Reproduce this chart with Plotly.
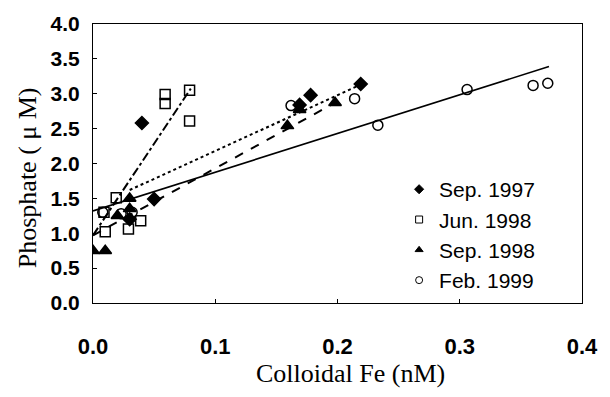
import plotly.graph_objects as go

# ---- data ----
sep97_x = [0.030, 0.040, 0.050, 0.169, 0.178, 0.219]
sep97_y = [1.20, 2.58, 1.49, 2.84, 2.98, 3.14]

jun98_x = [0.009, 0.010, 0.019, 0.029, 0.039, 0.059, 0.059, 0.079, 0.079]
jun98_y = [1.30, 1.02, 1.51, 1.06, 1.18, 2.99, 2.86, 3.05, 2.61]

sep98_x = [0.000, 0.010, 0.020, 0.030, 0.030, 0.159, 0.169, 0.198]
sep98_y = [0.75, 0.75, 1.25, 1.35, 1.50, 2.54, 2.77, 2.87]

feb99_x = [0.008, 0.023, 0.032, 0.162, 0.214, 0.233, 0.306, 0.360, 0.372]
feb99_y = [1.30, 1.28, 1.30, 2.83, 2.93, 2.55, 3.06, 3.12, 3.15]

# regression lines: (x start, x end, intercept, slope)
fit_sep97 = (0.030, 0.220, 1.38, 8.0)
fit_jun98 = (0.000, 0.080, 0.97, 26.3)
fit_sep98 = (0.000, 0.200, 0.97, 9.6)
fit_feb99 = (0.000, 0.373, 1.32, 5.55)

names = ["Sep. 1997", "Jun. 1998", "Sep. 1998", "Feb. 1999"]
x_ticks = [0.0, 0.1, 0.2, 0.3, 0.4]
y_ticks = [0.0, 0.5, 1.0, 1.5, 2.0, 2.5, 3.0, 3.5, 4.0]
x_title = "Colloidal Fe (nM)"
y_title = "Phosphate ( μ M)"

series = [
    (sep97_x, sep97_y, fit_sep97, "diamond", 10, "dot", 7),
    (jun98_x, jun98_y, fit_jun98, "square-open", 10, "dashdot", 7),
    (sep98_x, sep98_y, fit_sep98, "triangle-up", 11, "dash", 7),
    (feb99_x, feb99_y, fit_feb99, "circle-open", 10, "solid", 7),
]

fig = go.Figure()
for name, (xs, ys, fit, sym, size, dash, lsize) in zip(names, series):
    x0, x1, b, m = fit
    fig.add_trace(go.Scatter(
        x=[x0, x1], y=[b + m * x0, b + m * x1], mode="lines",
        line=dict(color="black", width=1.6 if dash == "solid" else 2, dash=dash),
        showlegend=False, hoverinfo="skip"))
    fig.add_trace(go.Scatter(
        x=xs, y=ys, mode="markers", showlegend=False, name=name,
        marker=dict(symbol=sym, size=size, color="black",
                    line=dict(color="black", width=1.5))))
    # legend entry (smaller marker like the reference)
    fig.add_trace(go.Scatter(
        x=[None], y=[None], mode="markers", name=name,
        marker=dict(symbol=sym, size=lsize, color="black",
                    line=dict(color="black", width=1))))

tick_font = dict(family="Liberation Sans, Arial, sans-serif", size=21, color="black", weight="bold")
title_font = dict(family="Liberation Serif, Times New Roman, serif", size=26, color="black")

fig.update_layout(
    width=610, height=397,
    margin=dict(l=93, r=19, t=15, b=94),
    paper_bgcolor="white", plot_bgcolor="white",
    showlegend=True,
    legend=dict(x=0.626, y=0.48, xanchor="left", yanchor="top",
                bgcolor="rgba(0,0,0,0)", borderwidth=0,
                font=dict(family="Liberation Sans, Arial, sans-serif", size=21, color="black"),
                itemwidth=30, tracegroupgap=0),
    xaxis=dict(range=[0, 0.4], tickvals=x_ticks, ticktext=[f"{v:.1f}" for v in x_ticks],
               ticks="inside", ticklen=4, tickcolor="black",
               showline=True, linecolor="black", linewidth=1, mirror=True,
               showgrid=False, zeroline=False,
               tickfont=dict(tick_font, size=22),
               ticklabelstandoff=24),
    yaxis=dict(range=[0, 4.0], tickvals=y_ticks, ticktext=[f"{v:.1f}" for v in y_ticks],
               ticks="inside", ticklen=4, tickcolor="black",
               showline=True, linecolor="black", linewidth=1, mirror=True,
               showgrid=False, zeroline=False, tickfont=tick_font,
               ticklabelstandoff=8),
    annotations=[
        dict(text=x_title, xref="paper", yref="paper", x=0.526, y=-0.253,
             xanchor="center", yanchor="middle", showarrow=False, font=title_font),
        dict(text=y_title, xref="paper", yref="paper", x=-0.1345, y=0.448,
             xanchor="center", yanchor="middle", textangle=-90, showarrow=False,
             font=title_font),
    ],
)

fig.write_html("out.html")
